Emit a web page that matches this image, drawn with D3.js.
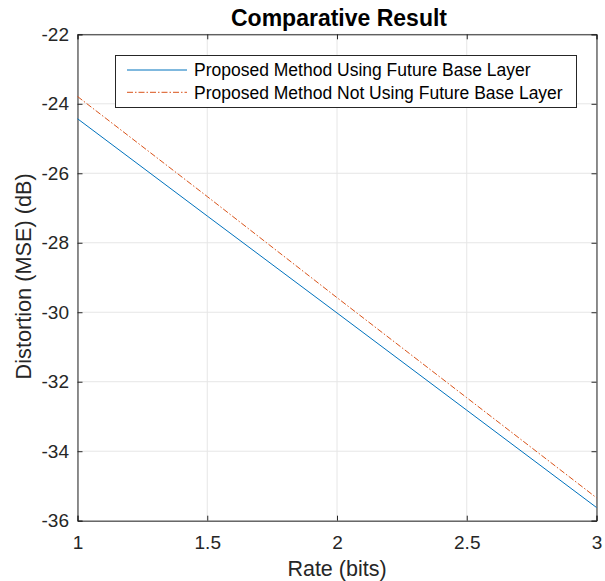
<!DOCTYPE html>
<html><head><meta charset="utf-8">
<script src="https://cdn.jsdelivr.net/npm/d3@7"></script>
<style>body{margin:0;background:#fff}svg{display:block}text{font-family:"Liberation Sans",Arial,sans-serif}</style>
</head><body><svg id="c" width="605" height="581"></svg>
<script>
const rates = [1, 1.5, 2, 2.5, 3];
const withFuture = [-24.43, -27.23, -30.02, -32.82, -35.62];
const withoutFuture = [-23.79, -26.67, -29.58, -32.46, -35.34];
const seriesNames = ["Proposed Method Using Future Base Layer", "Proposed Method Not Using Future Base Layer"];
const xTicks = [1, 1.5, 2, 2.5, 3];
const yTicks = [-36, -34, -32, -30, -28, -26, -24, -22];

const svg = d3.select("#c");
const L = 77.5, R = 596.5, T = 34.3, B = 520.7;
const x = d3.scaleLinear().domain([1, 3]).range([L, R]);
const y = d3.scaleLinear().domain([-36, -22]).range([B, T]);

// grid
const g = svg.append("g");
g.selectAll(".gx").data(xTicks).enter().append("line")
  .attr("x1", d => x(d)).attr("x2", d => x(d)).attr("y1", T).attr("y2", B)
  .attr("stroke", "#e6e6e6").attr("stroke-width", 1);
g.selectAll(".gy").data(yTicks).enter().append("line")
  .attr("y1", d => y(d)).attr("y2", d => y(d)).attr("x1", L).attr("x2", R)
  .attr("stroke", "#e6e6e6").attr("stroke-width", 1);

// axes
const xAxis = d3.axisBottom(x).tickValues(xTicks).tickSize(-5).tickPadding(15).tickFormat(d => d);
const yAxis = d3.axisLeft(y).tickValues(yTicks).tickSize(-5).tickPadding(8.5).tickFormat(d => d);
const xa = svg.append("g").attr("transform", `translate(0,${B})`).call(xAxis);
const ya = svg.append("g").attr("transform", `translate(${L},0)`).call(yAxis);
const xt = svg.append("g").attr("transform", `translate(0,${T})`).call(d3.axisTop(x).tickValues(xTicks).tickSize(-5).tickFormat(""));
const yr = svg.append("g").attr("transform", `translate(${R},0)`).call(d3.axisRight(y).tickValues(yTicks).tickSize(-5).tickFormat(""));
[xa, ya, xt, yr].forEach(a => {
  a.selectAll("path").attr("stroke", "#262626").attr("stroke-width", 1);
  a.selectAll("line").attr("stroke", "#262626");
  a.selectAll("text").attr("fill", "#262626").style("font-size", "19px").style("font-family", '"Liberation Sans",Arial,sans-serif');
});

// lines
const line = d3.line().x((d, i) => x(rates[i])).y(d => y(d));
svg.append("path").datum(withFuture).attr("d", line).attr("fill", "none")
  .attr("stroke", "#0072BD").attr("stroke-width", 1);
svg.append("path").datum(withoutFuture).attr("d", line).attr("fill", "none")
  .attr("stroke", "#D95319").attr("stroke-width", 1).attr("stroke-dasharray", "6,2,1.5,2");

// title & labels
svg.append("text").attr("x", (L + R) / 2 + 2).attr("y", 25.7).attr("text-anchor", "middle")
  .style("font-size", "23px").style("font-weight", "bold").attr("fill", "#000").text("Comparative Result");
svg.append("text").attr("x", (L + R) / 2).attr("y", 575.7).attr("text-anchor", "middle")
  .style("font-size", "21.5px").attr("fill", "#262626").text("Rate (bits)");
svg.append("text").attr("transform", `translate(30.7,276.4) rotate(-90)`).attr("text-anchor", "middle")
  .style("font-size", "21.7px").attr("fill", "#262626").text("Distortion (MSE) (dB)");

// legend
const lg = svg.append("g");
lg.append("rect").attr("x", 115.5).attr("y", 55.5).attr("width", 461).attr("height", 52)
  .attr("fill", "#fff").attr("stroke", "#262626").attr("stroke-width", 1);
const colors = ["#0072BD", "#D95319"], dashes = [null, "6,2,1.5,2"];
seriesNames.forEach((n, i) => {
  const yy = 70 + i * 22.3;
  lg.append("line").attr("x1", 127).attr("x2", 187).attr("y1", yy).attr("y2", yy)
    .attr("stroke", colors[i]).attr("stroke-width", 1).attr("stroke-dasharray", dashes[i]);
  lg.append("text").attr("x", 194).attr("y", yy + 6.3).style("font-size", "17.5px").attr("fill", "#000").text(n);
});
</script></body></html>
